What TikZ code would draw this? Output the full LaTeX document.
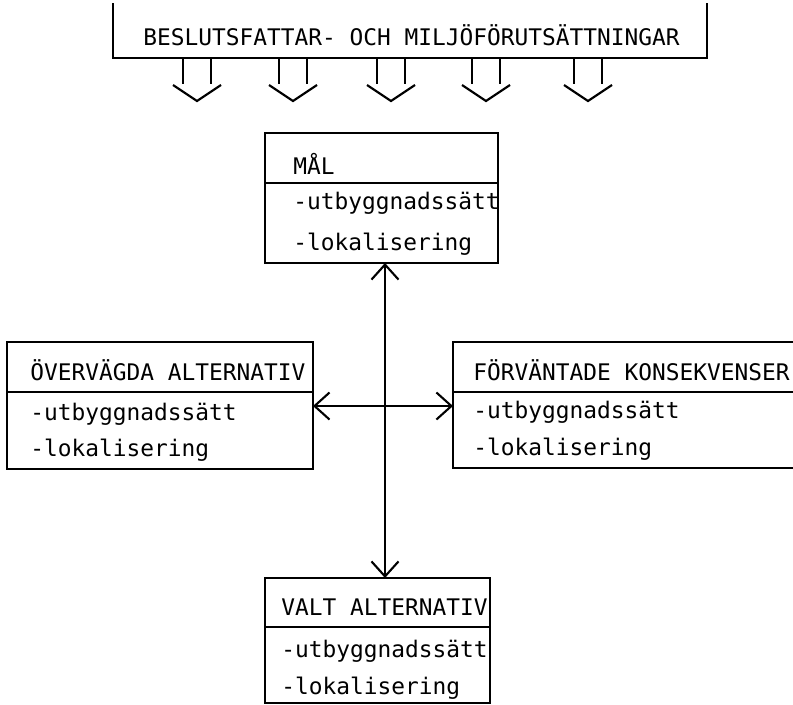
\documentclass[tikz,border=0pt]{standalone}
\usepackage{fontspec}
\newfontfamily\plotterfont{DejaVu Sans Mono}
\usetikzlibrary{calc,positioning,arrows.meta}

\begin{document}
\begin{tikzpicture}[x=0.02cm,y=-0.02cm]

    \tikzstyle{pen}=[line width=1.2pt]
    \tikzstyle{frame}=[draw,pen,rectangle,inner sep=0pt,outer sep=0pt,anchor=north west]
    \tikzstyle{txt}=[inner sep=0pt,anchor=base west,font=\plotterfont\fontsize{13pt}{15pt}\selectfont]
    \tikzstyle{link}=[pen,{Straight Barb[length=0.3cm,width=0.54cm]}-{Straight Barb[length=0.3cm,width=0.54cm]}]

    \useasboundingbox (0,0) rectangle (793,704);
    \clip (0,0) rectangle (793,704);

    % conditions on top
    \coordinate (cond_l) at (113,58);
    \coordinate (cond_r) at (707,58);
    \draw [pen] (113,3) -- (cond_l) -- (cond_r) -- (707,3);
    \node (cond) [txt] at (143,45) {BESLUTSFATTAR- OCH MILJÖFÖRUTSÄTTNINGAR};

    \foreach \cx in {197,293,391,486,588} {
      \draw [pen] (\cx-14,58) -- (\cx-14,84) (\cx+14,58) -- (\cx+14,84);
      \draw [pen] (\cx-24,85) -- (\cx,101) -- (\cx+24,85);
    }

    % MAL
    \node (maal) [frame,minimum width=4.66cm,minimum height=2.6cm] at (265,133) {};
    \draw [pen] ($(maal.north west)+(0,50)$) -- ($(maal.north east)+(0,50)$);
    \node (maal_h) [txt] at ($(maal.north west)+(28,41)$) {MÅL};
    \node (maal_1) [txt] at ($(maal.north west)+(28,76)$) {-utbyggnadssätt};
    \node (maal_2) [txt] at ($(maal.north west)+(28,117)$) {-lokalisering};

    % overvagda alternativ
    \node (overv) [frame,minimum width=6.12cm,minimum height=2.54cm] at (7,342) {};
    \draw [pen] ($(overv.north west)+(0,50)$) -- ($(overv.north east)+(0,50)$);
    \node (overv_h) [txt] at ($(overv.north west)+(23,38)$) {ÖVERVÄGDA ALTERNATIV};
    \node (overv_1) [txt] at ($(overv.north west)+(23,78)$) {-utbyggnadssätt};
    \node (overv_2) [txt] at ($(overv.north west)+(23,114)$) {-lokalisering};

    % forvantade konsekvenser
    \node (forv) [frame,minimum width=7.54cm,minimum height=2.52cm] at (453,342) {};
    \draw [pen] ($(forv.north west)+(0,50)$) -- ($(forv.north east)+(0,50)$);
    \node (forv_h) [txt] at ($(forv.north west)+(20,38)$) {FÖRVÄNTADE KONSEKVENSER};
    \node (forv_1) [txt] at ($(forv.north west)+(20,76)$) {-utbyggnadssätt};
    \node (forv_2) [txt] at ($(forv.north west)+(20,113)$) {-lokalisering};

    % valt alternativ
    \node (valt) [frame,minimum width=4.5cm,minimum height=2.5cm] at (265,578) {};
    \draw [pen] ($(valt.north west)+(0,49)$) -- ($(valt.north east)+(0,49)$);
    \node (valt_h) [txt] at ($(valt.north west)+(16,37)$) {VALT ALTERNATIV};
    \node (valt_1) [txt] at ($(valt.north west)+(16,79)$) {-utbyggnadssätt};
    \node (valt_2) [txt] at ($(valt.north west)+(16,116)$) {-lokalisering};

    % connections
    \coordinate (cross) at (385,406);
    \draw [link] (cross |- maal.south) -- (cross |- valt.north);
    \draw [link] (cross -| overv.east) -- (cross -| forv.west);

\end{tikzpicture}
\end{document}
